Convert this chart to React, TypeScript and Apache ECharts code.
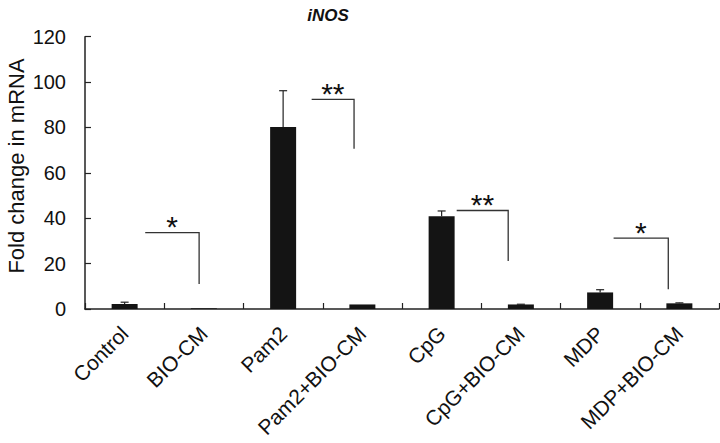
import React, { useEffect, useRef } from "react";
import * as echarts from "echarts";

const categories = ["Control", "BIO-CM", "Pam2", "Pam2+BIO-CM", "CpG", "CpG+BIO-CM", "MDP", "MDP+BIO-CM"];
const means = [2.2, 0.3, 80.2, 2.0, 40.9, 2.0, 7.3, 2.5];
const errors = [0.8, 0, 16, 0, 2.3, 0.1, 1.2, 0.2];
const yTicks = [0, 20, 40, 60, 80, 100, 120];

// significance brackets (fractional category positions, values on y scale)
const bracketStart = [0.26, 2.36, 4.19, 6.17];
const bracketEnd = [0.94, 2.895, 4.84, 6.86];
const bracketTop = [33.7, 92.4, 43.4, 31.2];
const bracketBottom = [11, 70.6, 21.1, 8.7];
const bracketLabels = ["*", "**", "**", "*"];

const FONT = "Arial, 'Liberation Sans', sans-serif";
const AXIS_COLOR = "#222";

export default function App() {
  const ref = useRef<HTMLDivElement>(null);
  useEffect(() => {
    document.body.style.margin = "0";
    if (!ref.current) return;
    const chart = echarts.init(ref.current, undefined, { renderer: "svg" });
    const option: any = {
      animation: false,
      backgroundColor: "#fff",
      title: {
        text: "iNOS",
        left: 323,
        top: 2,
        textAlign: "center",
        textStyle: { fontFamily: FONT, fontSize: 17, fontWeight: "bold", fontStyle: "italic", color: "#111" },
      },
      graphic: [
        {
          type: "text",
          x: 16,
          y: 166,
          rotation: Math.PI / 2,
          style: {
            text: "Fold change in mRNA",
            textAlign: "center",
            textVerticalAlign: "middle",
            font: `22px ${FONT}`,
            fill: "#111",
          },
        },
      ],
      grid: { left: 85, right: 1, top: 36.7, bottom: 134, containLabel: false, outerBoundsMode: "none" },
      xAxis: {
        type: "category",
        data: categories,
        boundaryGap: true,
        axisLine: { lineStyle: { color: AXIS_COLOR, width: 1.5 } },
        axisTick: { show: true, inside: true, length: 6, alignWithLabel: false, lineStyle: { color: AXIS_COLOR, width: 1.2 } },
        axisLabel: { rotate: 45, margin: 21, fontFamily: FONT, fontSize: 21, color: "#111", interval: 0 },
        splitLine: { show: false },
      },
      yAxis: {
        type: "value",
        min: yTicks[0],
        max: yTicks[yTicks.length - 1],
        interval: 20,
        axisLine: { show: true, lineStyle: { color: AXIS_COLOR, width: 1.5 } },
        axisTick: { show: true, inside: true, length: 6, lineStyle: { color: AXIS_COLOR, width: 1.2 } },
        axisLabel: { margin: 19, fontFamily: FONT, fontSize: 20, color: "#111" },
        splitLine: { show: false },
      },
      series: [
        {
          type: "bar",
          data: means,
          barWidth: 26,
          itemStyle: { color: "#141414" },
        },
        {
          type: "custom",
          data: means.map((m, i) => [i, m]),
          z: 3,
          renderItem: (params: any, api: any) => {
            const i = params.dataIndex;
            const err = errors[i];
            if (!err) return null;
            const p0 = api.coord([i, means[i]]);
            const p1 = api.coord([i, means[i] + err]);
            const cap = 4;
            return {
              type: "group",
              children: [
                { type: "line", shape: { x1: p0[0], y1: p0[1], x2: p1[0], y2: p1[1] }, style: { stroke: "#222", lineWidth: 1.2 } },
                { type: "line", shape: { x1: p1[0] - cap, y1: p1[1], x2: p1[0] + cap, y2: p1[1] }, style: { stroke: "#222", lineWidth: 1.2 } },
              ],
            };
          },
        },
        {
          type: "custom",
          data: bracketTop.map((t) => [0, t]),
          z: 4,
          renderItem: (params: any, api: any) => {
            const i = params.dataIndex;
            const c0 = api.coord([0, 0]);
            const c1 = api.coord([1, 0]);
            const bw = c1[0] - c0[0];
            const xs = c0[0] + bracketStart[i] * bw;
            const xe = c0[0] + bracketEnd[i] * bw;
            const yt = api.coord([0, bracketTop[i]])[1];
            const yb = api.coord([0, bracketBottom[i]])[1];
            return {
              type: "group",
              children: [
                {
                  type: "polyline",
                  shape: { points: [[xs, yt], [xe, yt], [xe, yb]] },
                  style: { stroke: "#333", lineWidth: 1.3, fill: "none" },
                },
                {
                  type: "text",
                  style: {
                    text: bracketLabels[i],
                    x: (xs + xe) / 2,
                    y: yt - 6,
                    textAlign: "center",
                    textVerticalAlign: "middle",
                    font: `30px ${FONT}`,
                    fill: "#111",
                  },
                },
              ],
            };
          },
        },
      ],
    };
    chart.setOption(option);
    return () => chart.dispose();
  }, []);
  return <div ref={ref} style={{ width: 720, height: 443, position: "absolute", left: 0, top: 0 }} />;
}
